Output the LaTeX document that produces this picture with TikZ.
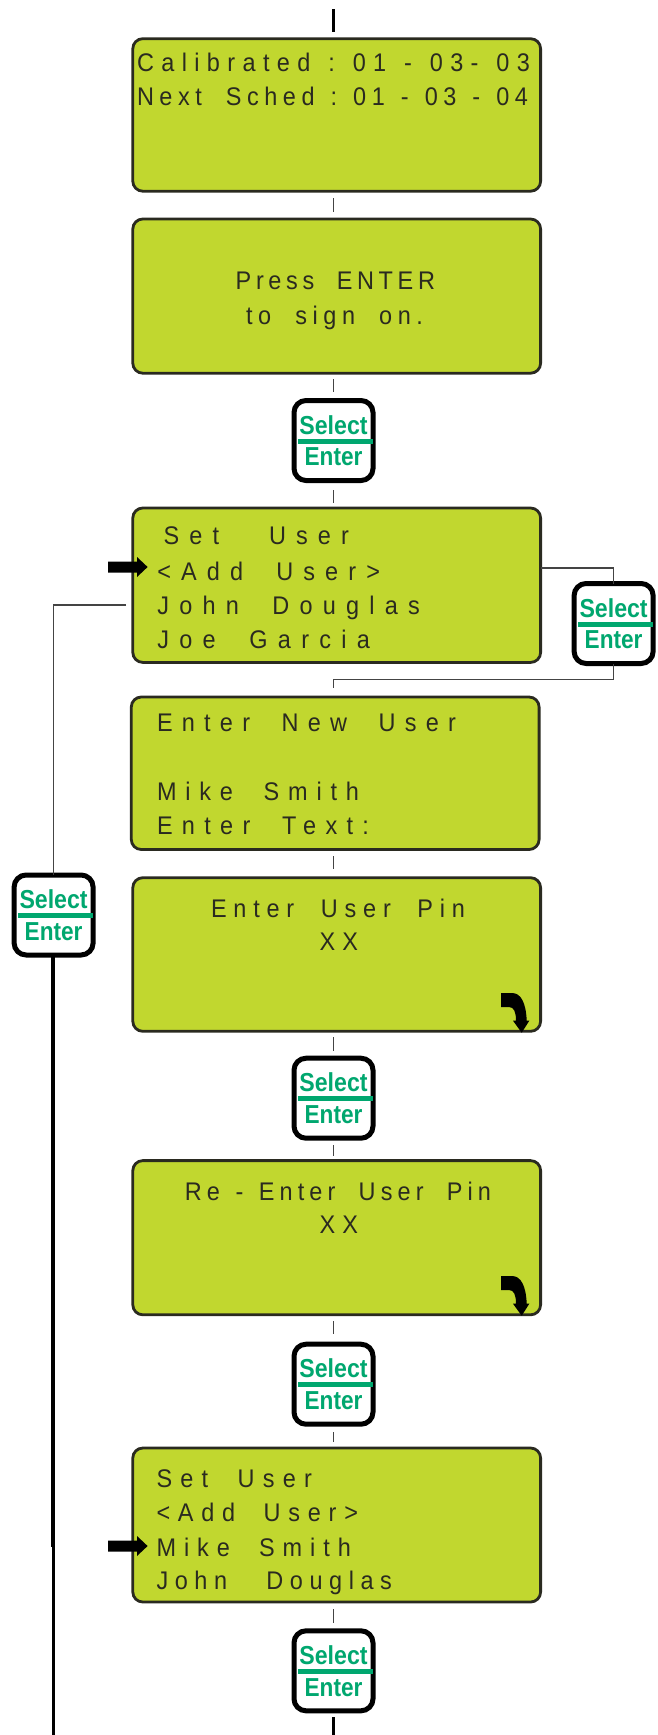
\documentclass[tikz,border=0pt]{standalone}
\usepackage{fontspec}
\setmainfont{Liberation Sans}
\newfontfamily\lcdfont[FakeStretch=0.92]{Liberation Sans}
\definecolor{lcdgreen}{HTML}{C1D72F}
\definecolor{btngreen}{HTML}{00A76F}
\definecolor{lcdink}{HTML}{2A2A20}
\definecolor{linegray}{HTML}{444444}
\newsavebox\lsmeasure
\newcommand\lcdsize{\fontsize{25.5}{25.5}\selectfont}
\newcommand\wgap{\ \hspace{4pt}}
% name, x-left, x-right, baseline, text : letter spacing is fitted to the width
\newcommand\lcdline[5]{%
  \sbox\lsmeasure{\pgfinterruptpicture\lcdfont\lcdsize #5\endpgfinterruptpicture}\edef\lswa{\the\wd\lsmeasure}%
  \sbox\lsmeasure{\pgfinterruptpicture\lcdfont\lcdsize\addfontfeature{LetterSpace=10}#5\endpgfinterruptpicture}\edef\lswb{\the\wd\lsmeasure}%
  \pgfmathsetmacro\lsval{10*(#3-#2-\lswa)/(\lswb-\lswa)}%
  \node[lcdtext] (#1) at (#2,{#4+0.8}) {\lcdfont\lcdsize\addfontfeature{LetterSpace=\lsval}#5};%
}
\newcommand\lcdbox[5]{%
  \node[lcd,minimum width={(#4-#2)*1pt},minimum height={(#5-#3)*1pt}] (#1) at ({(#2+#4)/2},{(#3+#5)/2}) {};%
}
% name, centre x, top y
\newcommand\selectbtn[3]{%
  \node[btn] (#1) at (#2,{#3+42.5}) {};%
  \node[btntext] (#1s) at (#2,{#3+36}) {\scalebox{.89}[1]{Select}};%
  \node[btntext] (#1e) at (#2,{#3+67.7}) {\scalebox{.87}[1]{Enter}};%
  \draw[btngreen,line width=5pt] ({#2-35.5},{#3+43.2}) -- ({#2+39.5},{#3+43.2});%
}
\newcommand\pointer[1]{%
  \fill[black] (108,{#1-5.5}) -- (137,{#1-5.5}) -- (137,{#1-10}) -- (147.6,#1) -- (137,{#1+10}) -- (137,{#1+5.5}) -- (108,{#1+5.5}) -- cycle;%
}
\newcommand\turnarrow[1]{%
  \fill[black] (501,{993+#1}) -- (512,{993+#1}) .. controls (521,{993+#1}) and (526,{1003+#1}) .. (526.7,{1020.7+#1}) -- (529.3,{1020.7+#1}) -- (521.7,{1032.7+#1}) -- (513,{1020.7+#1}) -- (516,{1020.7+#1}) .. controls (516,{1012+#1}) and (514,{1007+#1}) .. (509,{1007+#1}) -- (501,{1007+#1}) -- cycle;%
}
\tikzset{
  lcd/.style={draw=lcdink,fill=lcdgreen,line width=2.8pt,rounded corners=10pt,inner sep=0pt,outer sep=0pt},
  lcdtext/.style={anchor=base west,inner sep=0pt,outer sep=0pt,text=lcdink},
  btn/.style={draw=black,fill=white,line width=5pt,rounded corners=12pt,minimum width=79pt,minimum height=80pt,inner sep=0pt,outer sep=0pt},
  btntext/.style={anchor=base,inner sep=0pt,outer sep=0pt,text=btngreen,font=\fontsize{26}{26}\selectfont\bfseries},
  link/.style={draw=linegray,line width=1.1pt},
  heavy/.style={draw=black,line width=3.5pt},
}
\begin{document}
\begin{tikzpicture}[x=1pt,y=-1pt]
\useasboundingbox (0,0) rectangle (657,1735);
\fill[white] (0,0) rectangle (657,1735);
\def\cx{333.5}
% boxes
\lcdbox{a}{132.8}{38.7}{540.6}{191.2}
\lcdbox{b}{132.8}{219}{540.6}{373.2}
\lcdbox{c}{132.8}{508}{540.6}{662.4}
\lcdbox{d}{131.3}{697}{539.1}{849.5}
\lcdbox{e}{132.8}{877.7}{540.6}{1031.3}
\lcdbox{f}{132.8}{1160.6}{540.6}{1314.8}
\lcdbox{g}{132.8}{1448}{540.6}{1602}
% buttons
\selectbtn{k1}{\cx}{398}
\selectbtn{k2}{613.6}{581}
\selectbtn{k3}{53.6}{872.5}
\selectbtn{k4}{\cx}{1055.7}
\selectbtn{k5}{\cx}{1341.7}
\selectbtn{k6}{\cx}{1628.3}
% vertical connectors
\coordinate (top) at (\cx,9);
\coordinate (bot) at (\cx,1735);
\draw[heavy] (top) -- (\cx,32);
\draw[heavy] (\cx,1717) -- (bot);
\draw[link] (\cx,198) -- (\cx,212);
\draw[link] (\cx,379) -- (\cx,392);
\draw[link] (\cx,490) -- (\cx,503);
\draw[link] (\cx,856) -- (\cx,869);
\draw[link] (\cx,1037) -- (\cx,1051);
\draw[link] (\cx,1145) -- (\cx,1156);
\draw[link] (\cx,1321) -- (\cx,1334);
\draw[link] (\cx,1432) -- (\cx,1442);
\draw[link] (\cx,1609) -- (\cx,1623);
% side connectors
\draw[link] (c.east |- 0,568) -| (k2.north);
\draw[link] (k2.south) |- (\cx,679.3) -- (\cx,688);
\draw[link] (126,605) -| (k3.north);
\draw[draw=black,line width=4.5pt] (k3.south -| 52.8,0) -- (52.8,1547);
\draw[draw=black,line width=3pt] (53.7,1546) -- (53.7,1735);
% pointers and turn arrows
\pointer{567}
\pointer{1546}
\turnarrow{0}
\turnarrow{283}
% text
\lcdline{a1}{137}{530}{71}{Calibrated\wgap:\wgap 01\wgap -\wgap 03-\wgap 03}
\lcdline{a2}{137}{528}{105}{Next\ \ Sched\wgap:\wgap 01\wgap -\wgap 03\wgap -\wgap 04}
\lcdline{b1}{235.7}{435}{289}{Press\ \ ENTER}
\lcdline{b2}{246}{423}{324}{to\ \ sign\ \ on.}
\lcdline{c1}{163.6}{349}{544}{Set\ \ \ User}
\lcdline{c2}{157.3}{380}{580}{<Add\ \ User>}
\lcdline{c3}{157.3}{420}{613.7}{John\ \ Douglas}
\lcdline{c4}{157.3}{370}{647.7}{Joe\ \ Garcia}
\lcdline{d1}{157}{456}{730.7}{Enter\ \ New\ \ User}
\lcdline{d2}{157}{359}{800}{Mike\ \ Smith}
\lcdline{d3}{157}{369}{833.7}{Enter\ \ Text:}
\lcdline{e1}{211}{465}{917}{Enter\ \ User\ \ Pin}
\lcdline{e2}{319.6}{358}{950}{XX}
\lcdline{f1}{184.8}{491}{1200}{Re\wgap -\wgap Enter\ \ User\ \ Pin}
\lcdline{f2}{319.6}{358}{1233}{XX}
\lcdline{g1}{156.5}{312}{1486.7}{Set\ \ User}
\lcdline{g2}{156.5}{358}{1520.7}{<Add\ \ User>}
\lcdline{g3}{156.5}{351}{1555.7}{Mike\ \ Smith}
\lcdline{g4}{156.5}{392}{1589}{John\ \ \ Douglas}
\end{tikzpicture}
\end{document}
